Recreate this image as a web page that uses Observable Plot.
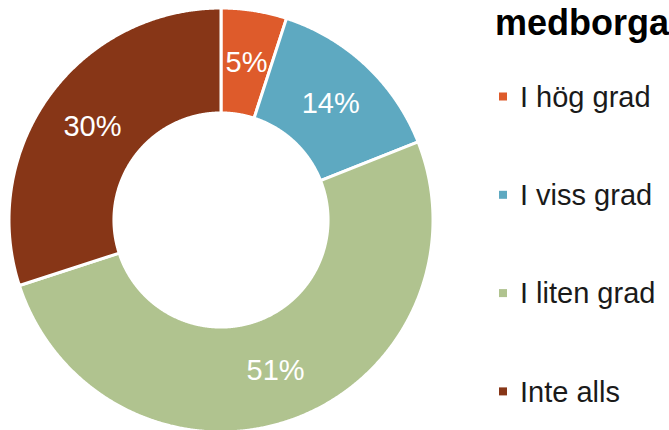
<!DOCTYPE html>
<html><head><meta charset="utf-8">
<script src="https://cdn.jsdelivr.net/npm/d3@7"></script>
<script src="https://cdn.jsdelivr.net/npm/@observablehq/plot@0.6"></script>
<style>
body{margin:0;background:#fff}
#wrap{position:relative;width:669px;height:430px;overflow:hidden}
</style>
</head><body><div id="wrap"></div>
<script>
const title = "medborga";
const categories = ["I hög grad", "I viss grad", "I liten grad", "Inte alls"];
const values = [5, 14, 51, 30];
const labels = ["5%", "14%", "51%", "30%"];
const colors = ["#DE5B2B", "#5EA9C1", "#B0C38F", "#873617"];

const inner = 0.505;   // inner radius relative to outer
const mid = (1 + inner) / 2;

const arcs = d3.pie().sort(null).value(d => d)(values);

// sample each ring sector along its angle
const ring = [];
arcs.forEach((a, i) => {
  const n = Math.max(2, Math.ceil((a.endAngle - a.startAngle) / 0.005));
  for (let k = 0; k <= n; k++) {
    const t = a.startAngle + (a.endAngle - a.startAngle) * k / n;
    ring.push({cat: categories[i],
      x1: Math.sin(t), y1: Math.cos(t),
      x2: inner * Math.sin(t), y2: inner * Math.cos(t)});
  }
});
const labelData = arcs.map((a, i) => {
  const t = (a.startAngle + a.endAngle) / 2;
  return {label: labels[i], x: mid * Math.sin(t), y: mid * Math.cos(t)};
});

const font = "'Liberation Sans', Arial, sans-serif";
const svg = Plot.plot({
  width: 669, height: 430,
  margin: 0,
  style: {fontFamily: font, background: "white", overflow: "hidden"},
  x: {domain: [-1, 1], range: [9, 433], axis: null},
  y: {domain: [-1, 1], range: [432, 8], axis: null},
  color: {domain: categories, range: colors},
  marks: [
    Plot.area(ring, {x1: "x1", y1: "y1", x2: "x2", y2: "y2", z: "cat", fill: "cat",
      stroke: "white", strokeWidth: 3, curve: "linear"}),
    Plot.text(labelData, {x: "x", y: "y", text: "label", fill: "white", fontSize: 29,
      fontFamily: font})
  ]
});
document.getElementById("wrap").appendChild(svg);

// legend on the right
const g = d3.select(svg).append("g").attr("font-family", font).attr("text-anchor", "start");
g.append("text").attr("x", 495).attr("y", 35).attr("font-size", 36)
  .attr("font-weight", "bold").attr("fill", "#000").text(title);
categories.forEach((c, i) => {
  const base = 106.7 + i * 98.3;
  g.append("rect").attr("x", 499).attr("y", base - 14.2).attr("width", 8).attr("height", 8)
    .attr("fill", colors[i]);
  g.append("text").attr("x", 520).attr("y", base).attr("font-size", 29)
    .attr("fill", "#1a1a1a").text(c);
});
</script></body></html>
